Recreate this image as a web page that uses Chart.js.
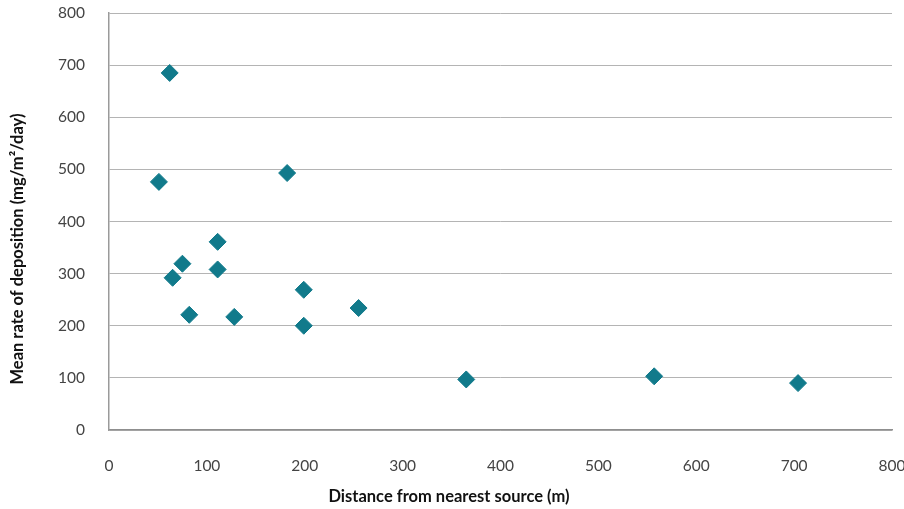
<!DOCTYPE html>
<html>
<head>
<meta charset="utf-8">
<script src="https://cdn.jsdelivr.net/npm/chart.js@4.4.1/dist/chart.umd.min.js"></script>
<style>
    html, body { margin: 0; padding: 0; background: #fff; }
    #wrap { width: 904px; height: 509px; }
</style>
</head>
<body>
<div id="wrap"><canvas id="depositionChart"></canvas></div>
<script>
// distance from nearest source (m) and mean deposition rate
const distances = [62, 51, 182, 111, 75, 65, 111, 82, 128, 199, 199, 255, 365, 557, 704];
const depositionRates = [685, 476, 493, 361, 319, 292, 308, 221, 217, 269, 200, 234, 97, 103, 90];
const xTitle = 'Distance from nearest source (m)';
const yTitle = 'Mean rate of deposition (mg/m\u00B2/day)';

const pointColor = '#117a8b';
const fontFamily = 'Lato, "Open Sans", sans-serif';

const points = distances.map(function (d, i) {
    return { x: d, y: depositionRates[i] };
});

// axis titles are drawn by hand: in the original they are not centred on the plot
const axisTitles = {
    id: 'axisTitles',
    afterDraw: function (chart) {
        const ctx = chart.ctx;
        const area = chart.chartArea;
        ctx.save();
        ctx.fillStyle = '#111';
        ctx.font = 'bold 16.5px ' + fontFamily;
        ctx.textAlign = 'center';
        ctx.textBaseline = 'middle';
        ctx.fillText(xTitle, area.left + 340, area.bottom + 67);
        ctx.translate(18, area.top + 236);
        ctx.rotate(-Math.PI / 2);
        ctx.fillText(yTitle, 0, 0);
        ctx.restore();
    }
};

// fixed axis sizes, and no extra room for overflowing tick labels
function fixSize(prop, value) {
    return function (scale) {
        scale[prop] = value;
        scale.paddingTop = 0;
        scale.paddingBottom = 0;
        scale.paddingLeft = 0;
        scale.paddingRight = 0;
    };
}

const config = {
    type: 'scatter',
    data: {
        datasets: [{
            label: 'Deposition',
            data: points,
            pointStyle: 'rectRot',
            pointRadius: 8.5,
            pointHoverRadius: 8.5,
            backgroundColor: pointColor,
            borderColor: pointColor,
            borderWidth: 1
        }]
    },
    plugins: [axisTitles],
    options: {
        responsive: true,
        maintainAspectRatio: false,
        animation: false,
        layout: {
            padding: { top: 13, right: 12, bottom: 0, left: 0 }
        },
        plugins: {
            legend: { display: false },
            tooltip: { enabled: false }
        },
        scales: {
            x: {
                type: 'linear',
                min: 0,
                max: 800,
                afterFit: fixSize('height', 79),
                ticks: {
                    stepSize: 100,
                    padding: 27,
                    color: '#444',
                    font: { family: fontFamily, size: 15.5 }
                },
                grid: { display: false, drawTicks: false },
                border: { display: true, color: '#8f8f8f', width: 1.5 }
            },
            y: {
                type: 'linear',
                min: 0,
                max: 800,
                afterFit: fixSize('width', 109),
                ticks: {
                    stepSize: 100,
                    padding: 24,
                    color: '#444',
                    font: { family: fontFamily, size: 15.5 }
                },
                grid: { color: '#b4b4b4', lineWidth: 1, drawTicks: false },
                border: { display: true, color: '#9a9a9a', width: 1.5 }
            }
        }
    }
};

const ctx = document.getElementById('depositionChart');
new Chart(ctx, config);
</script>
</body>
</html>
